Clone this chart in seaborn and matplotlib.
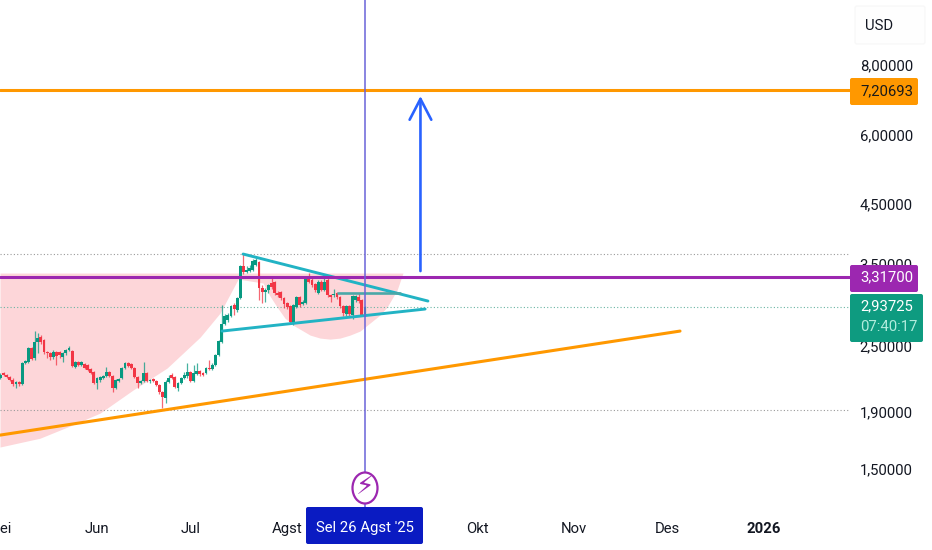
import numpy as np
import pandas as pd
import seaborn as sb
from matplotlib import pyplot as plt
from matplotlib.patches import Ellipse, FancyBboxPatch
from matplotlib.ticker import FixedLocator, NullLocator

# day number, 0 is 1 Jun 2025
DAYS = np.arange(-31, 87)

OPENS = [2.184,2.230,2.211,2.193,2.166,2.130,2.148,2.130,2.324,2.333,
         2.472,2.372,2.534,2.587,2.555,2.431,2.421,2.382,2.431,2.431,
         2.382,2.421,2.452,2.442,2.286,2.333,2.304,2.314,2.304,2.267,
         2.239,2.139,2.166,2.184,2.202,2.239,2.202,2.096,2.157,2.184,
         2.276,2.324,2.314,2.276,2.193,2.139,2.157,2.230,2.157,2.175,
         2.157,2.122,2.061,2.011,2.148,2.211,2.193,2.096,2.139,2.184,
         2.202,2.239,2.157,2.220,2.248,2.230,2.230,2.276,2.267,2.304,
         2.402,2.534,2.731,2.777,2.824,2.955,2.895,3.042,
         3.474,3.389,3.403,3.417,3.489,3.532,3.171,3.119,3.145,3.238,
         3.251,3.106,3.119,3.042,2.980,2.943,2.743,2.931,3.055,2.968,
         2.980,3.305,3.278,3.224,3.106,3.251,3.145,3.278,3.081,3.081,
         3.106,3.055,2.943,2.847,2.943,2.835,3.017,3.055,3.017,2.835]
CLOSES = [2.211,2.211,2.193,2.166,2.130,2.148,2.130,2.324,2.343,2.472,
          2.362,2.534,2.577,2.534,2.431,2.421,2.382,2.431,2.392,2.402,
          2.421,2.452,2.472,2.295,2.333,2.304,2.333,2.276,2.257,2.230,
          2.139,2.184,2.193,2.202,2.239,2.202,2.096,2.166,2.175,2.276,
          2.324,2.295,2.276,2.193,2.139,2.157,2.230,2.157,2.166,2.157,
          2.122,2.061,2.019,2.148,2.184,2.184,2.104,2.139,2.184,2.211,
          2.239,2.157,2.230,2.248,2.220,2.211,2.276,2.267,2.304,2.402,
          2.545,2.731,2.824,2.835,2.943,2.907,3.042,3.474,
          3.389,3.417,3.446,3.547,3.562,3.171,3.119,3.145,3.211,3.185,
          3.106,3.081,3.042,2.968,2.931,2.754,2.955,3.055,2.955,2.992,
          3.305,3.251,3.211,3.145,3.251,3.145,3.251,3.081,3.055,3.093,
          3.055,2.943,2.859,2.943,2.847,3.068,3.068,3.005,2.835,2.931]
HIGHS = [2.230,2.239,2.220,2.202,2.184,2.157,2.157,2.333,2.352,2.482,
         2.482,2.653,2.631,2.609,2.566,2.442,2.431,2.452,2.442,2.442,
         2.431,2.462,2.493,2.452,2.343,2.343,2.343,2.324,2.314,2.276,
         2.248,2.193,2.202,2.211,2.286,2.248,2.211,2.175,2.184,2.286,
         2.333,2.333,2.324,2.286,2.202,2.166,2.333,2.239,2.175,2.184,
         2.166,2.130,2.070,2.166,2.211,2.230,2.202,2.148,2.193,2.239,
         2.324,2.248,2.304,2.324,2.257,2.239,2.286,2.352,2.324,2.411,
         2.555,2.955,2.847,2.859,2.955,2.980,3.055,3.489,
         3.667,3.474,3.489,3.577,3.592,3.547,3.211,3.171,3.224,3.319,
         3.265,3.132,3.132,3.055,2.992,2.955,2.968,3.068,3.068,3.017,
         3.333,3.375,3.305,3.238,3.278,3.278,3.305,3.305,3.093,3.158,
         3.119,3.068,2.955,2.955,2.955,3.081,3.081,3.106,3.030,2.943]
LOWS = [2.175,2.202,2.184,2.157,2.113,2.096,2.113,2.122,2.314,2.324,
        2.352,2.352,2.421,2.513,2.411,2.372,2.352,2.362,2.304,2.372,
        2.333,2.402,2.442,2.286,2.276,2.295,2.295,2.267,2.248,2.220,
        2.130,2.087,2.148,2.175,2.193,2.193,2.061,2.087,2.148,2.175,
        2.267,2.286,2.267,2.184,2.096,2.130,2.148,2.148,2.139,2.148,
        2.113,2.044,1.929,1.969,2.139,2.175,2.096,2.070,2.130,2.175,
        2.184,2.148,2.148,2.211,2.202,2.202,2.220,2.257,2.257,2.295,
        2.392,2.524,2.720,2.754,2.812,2.835,2.871,3.030,
        3.361,3.375,3.389,3.403,3.474,3.017,2.980,2.992,3.106,3.158,
        3.081,3.055,3.017,2.919,2.907,2.731,2.720,2.919,2.931,2.955,
        2.968,3.238,3.185,3.119,3.093,3.132,3.132,3.055,2.992,3.055,
        3.030,2.919,2.824,2.824,2.812,2.789,2.992,2.980,2.824,2.824]

# pink cup drawing: lower edge of the shape, flat top
CUP_DAYS = [-31.13,-18.3,-8.7,1.0,11.6,22.5,33.1,39.5,41.7,45.3,53.3,55.5,57.8,60.3,62.9,68.4,
            71.6,74.8,78,81.2,84.4,87.6,90.8,93.1,96.3,98.2]
CUP_LOWER = [1.640,1.701,1.789,1.888,2.078,2.276,2.587,2.859,3.017,3.292,3.238,3.068,2.931,2.800,2.720,2.609,
             2.577,2.566,2.577,2.609,2.653,2.743,2.835,2.931,3.145,3.375]
CUP_TOP = 3.375

# drawn lines
SUPPORT_DAYS = [-31.13, 187.1]
SUPPORT_PRICES = [1.723, 2.653]
WEDGE_UP_DAYS = [46.9, 106.2]
WEDGE_UP_PRICES = [3.652, 3.005]
WEDGE_LOW_DAYS = [40.1, 105.3]
WEDGE_LOW_PRICES = [2.653, 2.907]
MID_DAYS = [77.4, 97.3]
MID_PRICES = [3.106, 3.106]
ARROW_DAY = 103.8
ARROW_PRICES = [3.403, 7.034]

TARGET_PRICE = 7.20693
RESIST_PRICE = 3.317
LAST_PRICE = 2.93725
HIGH_PRICE = 3.652
LOW_PRICE = 1.911
CURSOR_DAY = 86

Y_TICKS = [8, 6, 4.5, 3.5, 2.5, 1.9, 1.5]
Y_LABELS = ["8,00000", "6,00000", "4,50000", "3,50000", "2,50000", "1,90000", "1,50000"]
X_TICKS = [-31, 0, 30, 61, 122, 153, 183, 214]
X_LABELS = ["Mei", "Jun", "Jul", "Agst", "Okt", "Nov", "Des", "2026"]

GREEN = "#089981"
RED = "#f23645"
ORANGE = "#ff9800"
PURPLE = "#9c27b0"
TEAL = "#22b3c4"
BLUE = "#2962ff"
CURSOR = "#6a63d8"
FONT_SIZE = 10.7

sb.set_theme(style="white")
plt.rcParams['font.family'] = ['Roboto', 'DejaVu Sans']

fig = plt.figure(figsize=(9.32, 5.5), dpi=100)
ax = fig.add_axes([0, 35 / 550, 850 / 932, 515 / 550])
ax.set_yscale("log")
ax.set_xlim(-31.13, 241.65)
ax.set_ylim(1.237, 10.477)

# pink shape goes behind everything
ax.fill_between(CUP_DAYS, CUP_LOWER, CUP_TOP, color="#fdd6d9", linewidth=0, zorder=1)

# dotted levels
ax.axhline(HIGH_PRICE, color="#9a9a9a", linewidth=0.8, linestyle=(0, (1, 2)), zorder=2)
ax.axhline(LOW_PRICE, color="#9a9a9a", linewidth=0.8, linestyle=(0, (1, 2)), zorder=2)
ax.axhline(LAST_PRICE, color="#6ab5a4", linewidth=0.8, linestyle=(0, (1, 2)), zorder=2)

# candles
opens = np.array(OPENS)
closes = np.array(CLOSES)
is_up = closes >= opens
colors = np.where(is_up, GREEN, RED)
ax.vlines(DAYS, LOWS, HIGHS, colors=colors, linewidth=0.9, alpha=0.75, zorder=3)
ax.bar(DAYS, np.abs(closes - opens), bottom=np.minimum(opens, closes), width=0.92,
       color=colors, linewidth=0, zorder=4)

# trend lines
def drawLine(days, prices, color, width):
    frame = pd.DataFrame({"day": days, "price": prices})
    sb.lineplot(data=frame, x="day", y="price", color=color, linewidth=width, ax=ax,
                estimator=None, sort=False, zorder=5)

drawLine(SUPPORT_DAYS, SUPPORT_PRICES, ORANGE, 2.2)
drawLine(WEDGE_UP_DAYS, WEDGE_UP_PRICES, TEAL, 2.1)
drawLine(WEDGE_LOW_DAYS, WEDGE_LOW_PRICES, TEAL, 2.1)
drawLine(MID_DAYS, MID_PRICES, "#4aa8a8", 1.9)

ax.axhline(TARGET_PRICE, color=ORANGE, linewidth=2.2, zorder=5)
ax.axhline(RESIST_PRICE, color=PURPLE, linewidth=2.2, zorder=5)
ax.axvline(CURSOR_DAY, color=CURSOR, linewidth=1.1, zorder=6)

ax.annotate("", xy=(ARROW_DAY, ARROW_PRICES[1]), xytext=(ARROW_DAY, ARROW_PRICES[0]),
            arrowprops=dict(arrowstyle="->,head_length=1.25,head_width=0.65", color=BLUE,
                            linewidth=1.9, shrinkA=0, shrinkB=0), zorder=6)

# axes
ax.yaxis.tick_right()
ax.yaxis.set_major_locator(FixedLocator(Y_TICKS))
ax.yaxis.set_minor_locator(NullLocator())
ax.set_yticklabels(Y_LABELS)
ax.set_xticks(X_TICKS)
ax.set_xticklabels(X_LABELS)
ax.get_xticklabels()[-1].set_fontweight("bold")
ax.tick_params(axis="y", length=0, pad=7, labelsize=FONT_SIZE, labelcolor="#131722")
ax.tick_params(axis="x", length=0, pad=5, labelsize=FONT_SIZE, labelcolor="#131722")
ax.set_xlabel("")
ax.set_ylabel("")
sb.despine(ax=ax, left=True, bottom=True, right=True, top=True)

# overlay in figure pixels for the price tags and the date tag
ov = fig.add_axes([0, 0, 1, 1], zorder=10)
ov.set_xlim(0, 932)
ov.set_ylim(550, 0)
ov.axis("off")

def addTag(left, top, right, bottom, color):
    ov.add_patch(FancyBboxPatch((left + 1, top + 1), right - left - 2, bottom - top - 2,
                                boxstyle="round,pad=1,rounding_size=2", facecolor=color,
                                edgecolor="none"))

ov.add_patch(FancyBboxPatch((856, 7), 68, 36, boxstyle="round,pad=1,rounding_size=2",
                            facecolor="#fefefe", edgecolor="#f8f8f8", linewidth=1))
ov.text(865, 26, "USD", color="#131722", fontsize=FONT_SIZE, va="center", ha="left")

addTag(850, 78, 918, 105, ORANGE)
ov.text(860, 91, "7,20693", color="#1a1a1a", fontsize=FONT_SIZE, va="center", ha="left")
addTag(850, 265, 918, 292, PURPLE)
ov.text(860, 277, "3,31700", color="white", fontsize=FONT_SIZE, va="center", ha="left")
addTag(850, 294, 923, 342, "#0e9b80")
ov.text(860, 306, "2,93725", color="white", fontsize=FONT_SIZE, va="center", ha="left")
ov.text(860, 327, "07:40:17", color="#b2ecdd", fontsize=FONT_SIZE, va="center", ha="left")

addTag(306, 507, 423, 544, "#0a1bc2")
ov.text(365, 528, "Sel 26 Agst '25", color="white", fontsize=FONT_SIZE, va="center", ha="center")

ov.add_patch(Ellipse((365, 488), 25, 31, facecolor="white", edgecolor=PURPLE, linewidth=1.6))
ov.text(365, 488, "\u26a1", color=PURPLE, fontsize=19, va="center", ha="center",
        family=["DejaVu Sans"])

fig.savefig("out.png", dpi=100)
